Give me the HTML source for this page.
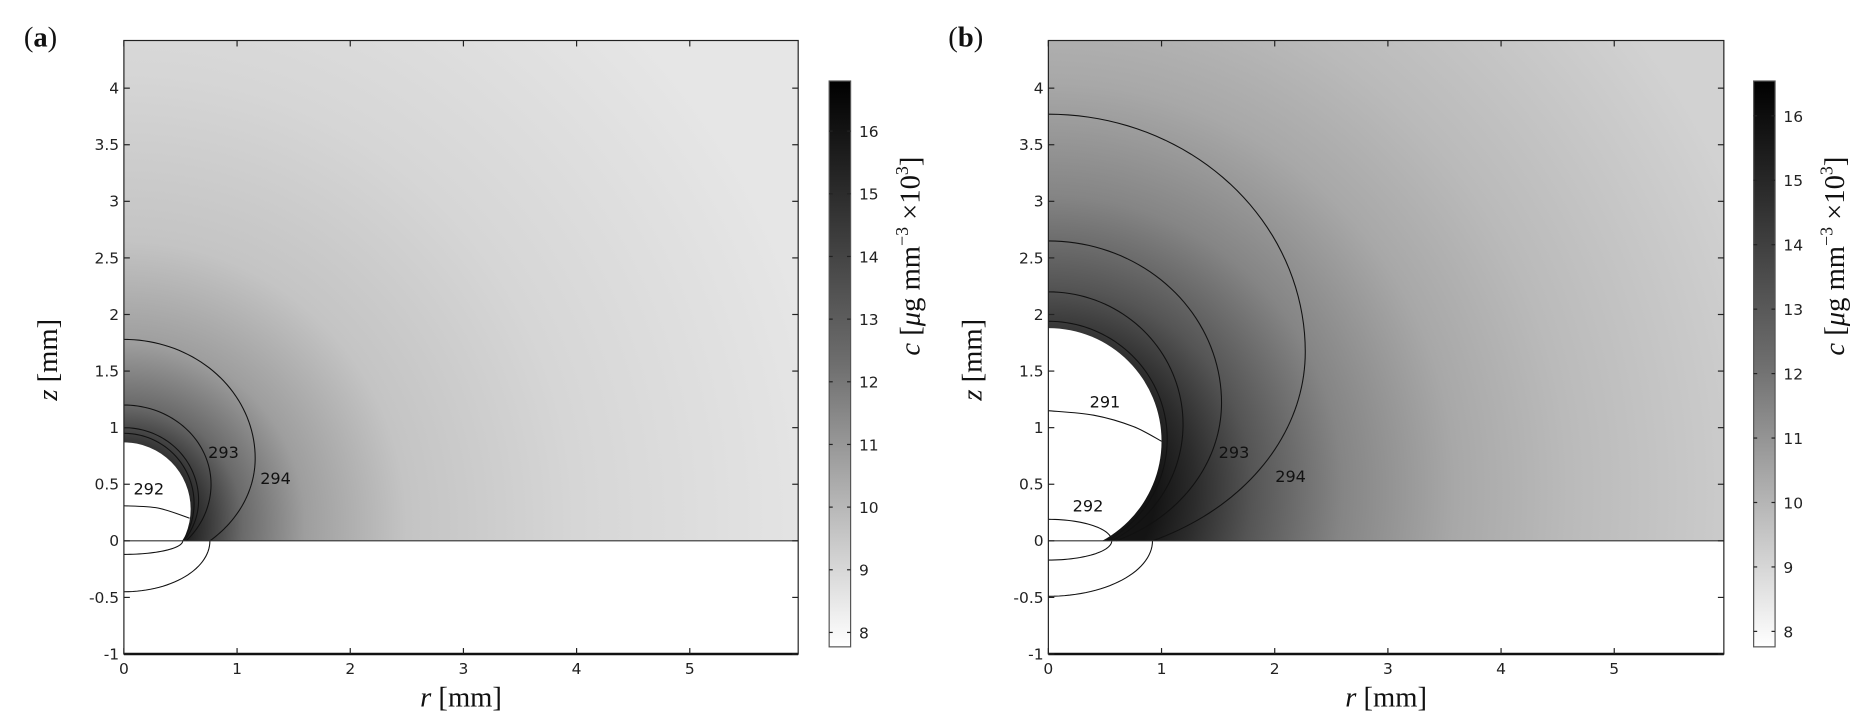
<!DOCTYPE html>
<html><head><meta charset="utf-8"><style>
html,body{margin:0;padding:0;background:#fff;}
svg{display:block;}
.tk{font-family:"DejaVu Sans","Liberation Sans",sans-serif;font-size:13px;fill:#222;}
.ax{font-family:"Liberation Serif",serif;font-size:24px;fill:#111;}
.cl{font-family:"DejaVu Sans","Liberation Sans",sans-serif;font-size:13.5px;fill:#111;}
</style></head><body>
<svg id="fig" width="1868" height="725" viewBox="0 0 1568 608.6" preserveAspectRatio="none" xmlns="http://www.w3.org/2000/svg">
<defs>
 <linearGradient id="cbg" x1="0" y1="0" x2="0" y2="1">
  <stop offset="0" stop-color="#000"/><stop offset="0.5" stop-color="#6e6e6e"/><stop offset="1" stop-color="#fff"/>
 </linearGradient>
</defs>
</svg>
<script>
// ---- data ----
const xTicks=[0,1,2,3,4,5];
const yTicks=[-1,-0.5,0,0.5,1,1.5,2,2.5,3,3.5,4];
const yTickLabels=["-1","-0.5","0","0.5","1","1.5","2","2.5","3","3.5","4"];
const cbTicksA=[8,9,10,11,12,13,14,15,16];
const cbTicksB=[8,9,10,11,12,13,14,15,16];
const cbRangeA=[7.77,16.8];
const cbRangeB=[7.76,16.54];
// sphere: [centerZ, radius]
const sphereA=[0.28,0.59];
const sphereB=[0.88,1.0];
// upper contours: [topZ, zAtMaxR, maxR, baseR]
const ringsA=[[1.78,0.73,1.16,0.76],[1.2,0.5,0.77,0.55],[1.0,0.36,0.66,0.53],[0.95,0.33,0.62,0.52]];
const ringsB=[[3.77,1.67,2.27,0.92],[2.65,1.22,1.53,0.6],[2.2,1.03,1.19,0.56],[1.94,0.9,1.05,0.52]];
// lower (z<0) quarter contours: [baseR, bottomZ]
const lowerA=[[0.76,-0.45],[0.52,-0.12]];
const lowerB=[[0.92,-0.49],[0.56,-0.17],[0.56,0.19]];
// free contour lines [r,z]
const linesA=[[[0,0.31],[0.3,0.29],[0.58,0.2]]];
const linesB=[[[0,1.15],[0.4,1.11],[0.75,1.01],[1.0,0.88]]];
const labelPosA=[["292",0.22,0.41],["293",0.88,0.73],["294",1.34,0.5]];
const labelPosB=[["291",0.5,1.18],["292",0.35,0.26],["293",1.64,0.73],["294",2.14,0.52]];
// shading stops: [distance (units), gray]; shading center z
const shadeCenterA=0.15, shadeCenterB=0.45;
const shadeA=[[0.5,"#151515"],[0.75,"#3a3a3a"],[1.05,"#6a6a6a"],[1.6,"#9e9e9e"],[2.5,"#c4c4c4"],[4,"#d6d6d6"],[6.3,"#e6e6e6"]];
const shadeB=[[0.95,"#141414"],[1.3,"#2c2c2c"],[1.8,"#555"],[2.6,"#858585"],[3.6,"#a8a8a8"],[4.6,"#bababa"],[6.6,"#d2d2d2"]];

const NS="http://www.w3.org/2000/svg";
const svg=document.getElementById('fig');
const defs=svg.querySelector('defs');
function el(t,a,p){const e=document.createElementNS(NS,t);for(const k in a)e.setAttribute(k,a[k]);(p||svg).appendChild(e);return e;}
const U=95, Y0=454, TOP=34, BOT=549;
function ringPts(R){const T=R[0],C=R[1],A=R[2],r0=R[3];const bt=T-C;const bb=C/Math.sqrt(1-(r0/A)*(r0/A));const P=[];
 for(let i=0;i<=40;i++){const t=Math.PI/2*(1-i/40);P.push([A*Math.cos(t),C+bt*Math.sin(t)]);}
 const tEnd=Math.asin(C/bb);
 for(let i=1;i<=40;i++){const t=tEnd*i/40;P.push([A*Math.cos(t),C-bb*Math.sin(t)]);}
 return P;}
function lowPts(L){const P=[];for(let i=0;i<=30;i++){const t=Math.PI/2*i/30;P.push([L[0]*Math.cos(t),L[1]*Math.sin(t)]);}return P;}
function smoothLine(P){let d="M"+P[0][0]+","+P[0][1];
 for(let i=0;i<P.length-1;i++){const p0=P[Math.max(i-1,0)],p1=P[i],p2=P[i+1],p3=P[Math.min(i+2,P.length-1)];
  d+=" C"+(p1[0]+(p2[0]-p0[0])/6)+","+(p1[1]+(p2[1]-p0[1])/6)+" "+(p2[0]-(p3[0]-p1[0])/6)+","+(p2[1]-(p3[1]-p1[1])/6)+" "+p2[0]+","+p2[1];}return d;}

function panel(id,X0,RIGHT,sphere,rings,lowers,lines,labels,shade,shC,cbX,cbTicks,cbRange,letter){
 const xs=r=>X0+U*r, ys=z=>Y0-U*z;
 const g=el('g',{});
 
 
 const maxd=shade[shade.length-1][0];
 const rg=el('radialGradient',{id:'rg'+id,gradientUnits:'userSpaceOnUse',cx:xs(0),cy:ys(shC),r:U*maxd},defs);
 shade.forEach(s=>el('stop',{offset:s[0]/maxd,'stop-color':s[1]},rg));
 const cpp=el('clipPath',{id:'cp'+id},defs);
 el('rect',{x:X0,y:TOP,width:RIGHT-X0,height:Y0-TOP},cpp);
 const field=el('rect',{x:X0,y:TOP,width:RIGHT-X0,height:Y0-TOP,fill:'url(#rg'+id+')'},g);
 
 
 const sp=el('circle',{cx:xs(0),cy:ys(sphere[0]),r:U*sphere[1],fill:'#fff','clip-path':'url(#cp'+id+')'},g);
 
 
 const pl=P=>P.map((q,i)=>(i?'L':'M')+xs(q[0]).toFixed(2)+','+ys(q[1]).toFixed(2)).join('');
 rings.forEach((R,i)=>{const p=el('path',{d:pl(ringPts(R)),fill:'none',stroke:'#111','stroke-width':0.9},g);
  
  });
 lowers.forEach((L,i)=>{const p=el('path',{d:pl(lowPts(L)),fill:'none',stroke:'#111','stroke-width':0.9},g);
  
  });
 lines.forEach((L,i)=>{const p=el('path',{d:smoothLine(L.map(q=>[xs(q[0]),ys(q[1])])),fill:'none',stroke:'#111','stroke-width':0.9},g);
  
  });
 labels.forEach(l=>{const t=el('text',{x:xs(l[1]),y:ys(l[2]),class:'cl','text-anchor':'middle'},g);t.textContent=l[0];
  
  });
 el('line',{x1:X0,y1:Y0,x2:RIGHT,y2:Y0,stroke:'#333','stroke-width':1},g);
 const fr=el('rect',{x:X0,y:TOP,width:RIGHT-X0,height:BOT-TOP,fill:'none',stroke:'#222','stroke-width':1},g);
 
 
 el('line',{x1:X0,y1:BOT,x2:RIGHT,y2:BOT,stroke:'#111','stroke-width':2},g);
 xTicks.forEach(v=>{const x=xs(v);el('line',{x1:x,y1:BOT,x2:x,y2:BOT-5,stroke:'#222'},g);el('line',{x1:x,y1:TOP,x2:x,y2:TOP+5,stroke:'#222'},g);
  const t=el('text',{x:x,y:BOT+17,class:'tk','text-anchor':'middle'},g);t.textContent=v;
  
  });
 yTicks.forEach((v,i)=>{const y=ys(v);el('line',{x1:X0,y1:y,x2:X0+5,y2:y,stroke:'#222'},g);el('line',{x1:RIGHT,y1:y,x2:RIGHT-5,y2:y,stroke:'#222'},g);
  const t=el('text',{x:X0-4,y:y+4.5,class:'tk','text-anchor':'end'},g);t.textContent=yTickLabels[i];
  
  });
 const xl=el('text',{x:(X0+RIGHT)/2,y:593,class:'ax','text-anchor':'middle'},g);
 xl.innerHTML='<tspan font-style="italic">r</tspan> [mm]';
 
 
 const yl=el('text',{x:0,y:0,class:'ax','text-anchor':'middle',transform:'translate('+(X0-56)+',302) rotate(-90)'},g);
 yl.innerHTML='<tspan font-style="italic">z</tspan> [mm]';
 
 
 const lab=el('text',{x:X0-84,y:39,class:'ax','font-size':24},g);
 lab.innerHTML='(<tspan font-weight="bold">'+letter+'</tspan>)';
 
 
 const CT=68,CB=543,cy=v=>CB-(v-cbRange[0])/(cbRange[1]-cbRange[0])*(CB-CT);
 const cb=el('rect',{x:cbX,y:CT,width:18,height:CB-CT,fill:'url(#cbg)',stroke:'#555','stroke-width':1},g);
 
 
 cbTicks.forEach(v=>{const y=cy(v);el('line',{x1:cbX,y1:y,x2:cbX+3,y2:y,stroke:'#222'},g);el('line',{x1:cbX+18,y1:y,x2:cbX+15,y2:y,stroke:'#222'},g);
  const t=el('text',{x:cbX+25,y:y+5,class:'tk','font-size':14},g);t.textContent=v;
  
  });
 const ct=el('text',{x:0,y:0,class:'ax','text-anchor':'middle',transform:'translate('+(cbX+76)+',215) rotate(-90)'},g);
 ct.innerHTML='<tspan font-style="italic">c</tspan> [<tspan font-style="italic">μ</tspan>g mm<tspan font-size="15" dy="-10">−3</tspan><tspan dy="10"> ×10</tspan><tspan font-size="15" dy="-10">3</tspan><tspan dy="10">]</tspan>';
 
 
}
panel('a',104,670,sphereA,ringsA,lowerA,linesA,labelPosA,shadeA,shadeCenterA,696,cbTicksA,cbRangeA,'a');
panel('b',880,1447,sphereB,ringsB,lowerB,linesB,labelPosB,shadeB,shadeCenterB,1472,cbTicksB,cbRangeB,'b');
</script>
</body></html>
